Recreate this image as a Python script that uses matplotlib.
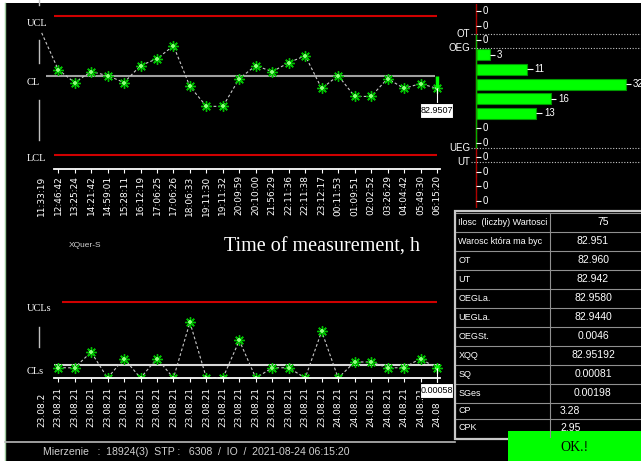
import numpy as np
import matplotlib.pyplot as plt
from matplotlib.patches import Rectangle
from matplotlib.transforms import blended_transform_factory

W, H = 641, 461
NARROW = ['Liberation Sans Narrow', 'Liberation Sans', 'DejaVu Sans']
SERIF = ['Liberation Serif', 'DejaVu Serif']

# ---- data ----
time_labels = ['11:33:19', '12:46:42', '13:25:24', '14:21:42', '14:59:01', '15:28:11',
               '16:12:19', '17:06:25', '17:06:26', '18:06:33', '19:11:30', '19:11:32',
               '20:09:59', '20:10:00', '21:56:29', '22:11:36', '22:11:38', '23:12:17',
               '00:11:53', '01:09:51', '02:02:52', '03:26:29', '04:04:42', '05:49:30',
               '06:15:20']
date_labels = ['23.08.2'] + ['23.08.21'] * 17 + ['24.08.21'] * 6 + ['24.08']

xbar = [82.9563, 82.9526, 82.9513, 82.9524, 82.9520, 82.9513, 82.9530, 82.9537,
        82.9550, 82.9509, 82.9489, 82.9489, 82.9517, 82.9530, 82.9524, 82.9533,
        82.9540, 82.9507, 82.9520, 82.9499, 82.9499, 82.9517, 82.9507, 82.9512,
        82.9507]
sdev = [np.nan, 0.00062, 0.00062, 0.00157, 0.0, 0.00118, 0.0, 0.00118, 0.0, 0.00337,
        0.0, 0.0, 0.00227, 0.0, 0.00062, 0.00062, 0.0, 0.00283, 0.0, 0.00097,
        0.00097, 0.00062, 0.00062, 0.00118, 0.00058]

hist_counts = [0, 0, 0, 3, 11, 32, 16, 13, 0, 0, 0, 0, 0, 0]
limit_names = ['OT', 'OEG', 'UEG', 'UT']
limit_values = [82.960, 82.958, 82.944, 82.942]

table_labels = ['Ilosc  (liczby) Wartosci', 'Warosc która ma byc', 'OT', 'UT',
                'OEGLa.', 'UEGLa.', 'OEGSt.', 'XQQ', 'SQ', 'SGes', 'CP', 'CPK']
table_values = ['75', '82.951', '82.960', '82.942', '82.9580', '82.9440', '0.0046',
                '82.95192', '0.00081', '0.00198', '3.28', '2.95']

UCL, CL, LCL = 82.9580, 82.95192, 82.9440
UCLS, CLS = 0.0046, 0.00081
status = 'Mierzenie   :  18924(3)  STP :   6308  /  IO  /  2021-08-24 06:15:20'

fig = plt.figure(figsize=(W / 100, H / 100), dpi=100, facecolor='black')


def px_axes(x0, y0, x1, y1, z=1):
    ax = fig.add_axes([x0 / W, 1 - y1 / H, (x1 - x0) / W, (y1 - y0) / H], zorder=z)
    ax.set_facecolor('none')
    for s in ax.spines.values():
        s.set_visible(False)
    ax.set_yticks([])
    return ax


# index -> pixel mapping shared by both control charts
X0, DX = 41.7, 16.47
def px2i(p):
    return (p - X0) / DX

idx = np.arange(len(xbar))
dash = (0, (2.5, 2))
star = dict(ls='none', marker=(8, 2, 0), ms=7.5, mec='#00c000', mew=1.0)
core = dict(ls='none', marker='+', ms=3.5, mec='#90ff80', mew=1.3)

# ---- X-bar chart ----
ax1 = px_axes(20, 4, 453, 169)
ax1.set_xlim(px2i(20), px2i(453))
span = UCL - LCL
ax1.set_ylim(LCL - span * 14 / 139, UCL + span * 12 / 139)
ax1.hlines([UCL, LCL], px2i(54), px2i(437), color='#d00000', lw=1.5)
ax1.hlines(CL, px2i(46), px2i(435), color='#a0a0a0', lw=1.5)
ax1.plot(idx, xbar, ls=dash, color='#c8c8c8', lw=0.8)
ax1.plot(idx[1:], xbar[1:], **star)
ax1.plot(idx[1:], xbar[1:], **core)
ax1.vlines(idx[-1], CL, xbar[-1], color='#00ff00', lw=2.5)
y_box1 = UCL - (103 - 16) * span / 139
ax1.vlines(idx[-1], xbar[-1], y_box1, color='white', lw=0.8)
ax1.spines['bottom'].set_visible(True)
ax1.spines['bottom'].set_color('white')
ax1.spines['bottom'].set_linewidth(1.3)
ax1.spines['bottom'].set_bounds(px2i(54), px2i(440))
ax1.set_xticks(idx, time_labels, rotation=90, fontsize=6.5, family='DejaVu Sans')
ax1.tick_params(axis='x', colors='white', length=3, width=0.8, pad=1.5)
ax1.xaxis.get_major_ticks()[0].tick1line.set_visible(False)

# ---- S chart ----
ax2 = px_axes(20, 235, 453, 378)
ax2.set_xlim(px2i(20), px2i(453))
ax2.set_ylim(0, UCLS * (378 - 235) / (378 - 302))
ax2.hlines(UCLS, px2i(62), px2i(437), color='#d00000', lw=1.5)
ax2.hlines(CLS, px2i(54), px2i(440), color='#d8d8d8', lw=1.5)
ax2.plot(idx, sdev, ls=dash, color='#c8c8c8', lw=0.8)
ax2.plot(idx, sdev, **star)
ax2.plot(idx, sdev, **core)
ax2.vlines(idx[-1], CLS, sdev[-1], color='#00ff00', lw=2.5)
ax2.spines['bottom'].set_visible(True)
ax2.spines['bottom'].set_color('white')
ax2.spines['bottom'].set_linewidth(1.3)
ax2.spines['bottom'].set_bounds(px2i(54), px2i(440))
ax2.set_xticks(idx[1:], [''] * (len(idx) - 1))
ax2.tick_params(axis='x', colors='white', length=3, width=0.8)

# ---- overlay in pixel coordinates ----
ov = fig.add_axes([0, 0, 1, 1], zorder=5)
ov.set_xlim(0, W)
ov.set_ylim(H, 0)
ov.axis('off')

bt = blended_transform_factory(ax2.transData, ov.transData)
for i, lab in enumerate(date_labels):
    ax2.text(i, 427, lab, transform=bt, rotation=90, ha='center', va='bottom',
             fontsize=6.5, color='white', family='DejaVu Sans', clip_on=False)
ax2.vlines(idx[-1], sdev[-1], -UCLS * 5 / 76, color='white', lw=0.8, clip_on=False)

# window borders
ov.add_patch(Rectangle((0, 0), 4.5, H, fc='white', ec='none'))
ov.add_patch(Rectangle((0, 0), W, 3.5, fc='white', ec='none'))
ov.plot([5.2, 5.2], [3.5, H], color='#9cc89c', lw=1)
ov.plot([5, 455], [441.5, 441.5], color='#b8b8b8', lw=1.2)

# small axis stubs on the left
for y0, y1 in [(0, 5), (40, 63), (100, 140), (326.7, 346.7)]:
    ov.plot([39, 39], [y0, y1], color='#c0c0c0', lw=1)

lbl = dict(color='white', fontsize=7.5, family=SERIF, ha='left', va='center')
ov.text(27, 24, 'UCL', **lbl)
ov.text(27, 82.5, 'CL', **lbl)
ov.text(27, 158.5, 'LCL', **lbl)
ov.text(27, 308, 'UCLs', **lbl)
ov.text(27, 371, 'CLs', **lbl)

# value boxes
for yb, txt in [(103, f'{xbar[-1]:.4f}'), (383.3, f'{sdev[-1]:.5f}')]:
    ov.add_patch(Rectangle((420, yb), 33, 14.5, fc='white', ec='black', lw=0.8))
    ov.text(436.5, yb + 7.5, txt, ha='center', va='center', fontsize=6.5,
            color='black', family=NARROW)

ov.text(85, 245, 'XQuer-S', ha='center', va='center', fontsize=6,
        color='#d0d0d0', family=NARROW)
ov.text(224, 247, 'Time of measurement, h', ha='left', va='center', fontsize=14.5,
        color='white', family=SERIF)

# ---- histogram ----
ax3 = px_axes(455, 4, 641, 208)
PXU = 4.69
ax3.set_xlim(-(475.5 - 455) / PXU, (641 - 475.5) / PXU)
rows = np.arange(len(hist_counts))
ax3.set_ylim((208 - 11) / 14.615, (4 - 11) / 14.615)
ax3.set_xticks([])
lim_rows = [1.58 + (limit_values[0] - v) * 486.7 for v in limit_values]
ax3.barh(rows, hist_counts, height=0.75, color='#00ff00', edgecolor='#009a00', lw=0.8)
ax3.axvline(0, color='#b00000', lw=1)
ax3.vlines(0, lim_rows[0], lim_rows[2], color='#00b000', lw=1)
ax3.hlines(lim_rows, -1.0, 40, color='#c8c8c8', lw=0.8, linestyles=(0, (1, 1.5)))
for name, r in zip(limit_names, lim_rows):
    ax3.text(-1.15, r, name, ha='right', va='center', fontsize=7, color='white',
             family=NARROW, clip_on=False)
ax3.hlines(rows, np.array(hist_counts), np.array(hist_counts) + 1.2, color='white', lw=0.8)
for r, c in zip(rows, hist_counts):
    ax3.text(c + 1.6, r, str(c), ha='left', va='center', fontsize=7, color='white',
             family=NARROW, clip_on=True)

# ---- statistics table ----
heights = [19] * 10 + [16, 18.5]
y = 212.5
ov.add_patch(Rectangle((454.5, 210.5), 190, 228, fc='black', ec='#c8c8c8', lw=1.6))
for k, (lab, val) in enumerate(zip(table_labels, table_values)):
    h = heights[k]
    ov.plot([456, W], [y, y], color='#909090', lw=0.8)
    yc = y + h / 2
    ov.text(458.5, yc, lab, ha='left', va='center', fontsize=6.5, color='white', family=NARROW)
    if k >= 10:
        ov.text(560, yc, val, ha='left', va='center', fontsize=7.5, color='white', family=NARROW)
    else:
        xc = 603 if k == 0 else 593
        ov.text(xc, yc, val, ha='center', va='center', fontsize=7.5, color='white', family=NARROW)
    y += h
ov.plot([549.5, 549.5], [212.5, 437], color='#909090', lw=0.8)

# ---- status bar and button ----
ov.text(43, 451.5, status, ha='left', va='center', fontsize=7.6, color='#d0d0d0', family=NARROW)
ov.add_patch(Rectangle((508, 431), W - 508, H - 431, fc='#00ff00', ec='none'))
ov.text(574, 447, 'OK.!', ha='center', va='center', fontsize=10, color='black', family=SERIF)

fig.savefig('out.png', dpi=100, facecolor='black')
